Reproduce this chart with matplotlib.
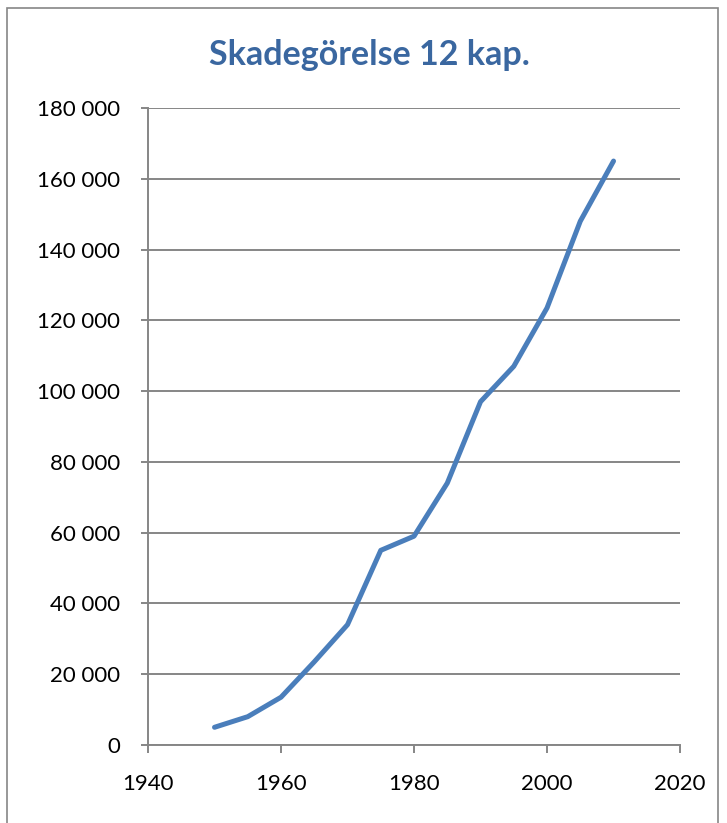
import matplotlib
matplotlib.use("Agg")
import matplotlib.pyplot as plt
from matplotlib.patches import Rectangle
from matplotlib.ticker import FuncFormatter

# Reported cases per year (Skadegörelse, 12 kap.)
years = [1950, 1955, 1960, 1965, 1970, 1975, 1980, 1985, 1990, 1995, 2000, 2005, 2010]
cases = [5000, 8000, 13500, 23500, 34000, 55000, 59000, 74000, 97000, 107000, 123500, 148000, 165000]

x_ticks = [1940, 1960, 1980, 2000, 2020]
y_ticks = list(range(0, 180001, 20000))

plt.rcParams["font.family"] = ["Lato", "DejaVu Sans"]

fig = plt.figure(figsize=(7.27, 8.23), dpi=100)
ax = fig.add_axes([0.2036, 0.0948, 0.7318, 0.774])

# outer chart border
fig.patches.append(Rectangle((0.0096, -0.01), 0.978, 1.0, transform=fig.transFigure,
                             fill=False, edgecolor="#868686", linewidth=1.2))

ax.plot(years, cases, color="#4A7EBB", linewidth=3.6, solid_capstyle="round",
        solid_joinstyle="round", zorder=3)

ax.set_xlim(1940, 2020)
ax.set_ylim(0, 180000)
ax.set_xticks(x_ticks)
ax.set_yticks(y_ticks)
ax.yaxis.set_major_formatter(FuncFormatter(lambda v, p: f"{int(v):,}".replace(",", " ")))

ax.grid(axis="y", color="#868686", linewidth=1.4)
ax.set_axisbelow(True)
for s in ["top", "right"]:
    ax.spines[s].set_visible(False)
for s in ["left", "bottom"]:
    ax.spines[s].set_color("#868686")
    ax.spines[s].set_linewidth(1.4)

ax.tick_params(axis="x", length=6, width=1.4, color="#868686", labelsize=16, pad=15)
ax.tick_params(axis="y", length=5, width=1.4, color="#868686", labelsize=16, pad=15)

fig.text(0.508, 0.933, "Skadegörelse 12 kap.", ha="center", va="center",
         fontsize=24.5, fontweight="bold", color="#3A67A0")

fig.savefig("out.png", dpi=100)
